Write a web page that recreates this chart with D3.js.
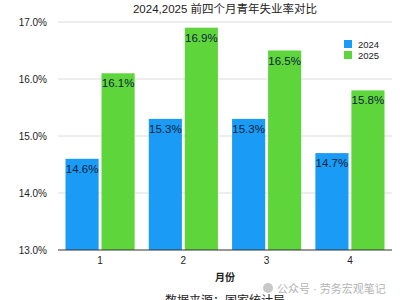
<!DOCTYPE html>
<html>
<head>
<meta charset="utf-8">
<script src="https://cdn.jsdelivr.net/npm/d3@7"></script>
<style>
  body { margin: 0; background: #fff; }
  svg { display: block; font-family: "Liberation Sans", "Noto Sans CJK SC", sans-serif; }
</style>
</head>
<body>
<svg width="400" height="300"></svg>
<script>
const months = ["1", "2", "3", "4"];
const seriesNames = ["2024", "2025"];
const rate2024 = [14.6, 15.3, 15.3, 14.7];
const rate2025 = [16.1, 16.9, 16.5, 15.8];
const yTicks = [13, 14, 15, 16, 17];
const colors = ["#1a9bf5", "#5fd53c"];

const svg = d3.select("svg");
const width = +svg.attr("width");
const height = +svg.attr("height");
const margin = { top: 22, right: 8, bottom: 50, left: 58 };

const x = d3.scaleBand()
  .domain(months)
  .range([margin.left, width - margin.right])
  .paddingInner(0.17)
  .paddingOuter(0.09);

const xInner = d3.scaleBand()
  .domain(seriesNames)
  .range([0, x.bandwidth()])
  .paddingInner(0.08);

const y = d3.scaleLinear()
  .domain([13, 17])
  .range([height - margin.bottom, margin.top]);

// title
svg.append("text")
  .attr("x", 225)
  .attr("y", 13)
  .attr("text-anchor", "middle")
  .attr("font-size", 11.5)
  .attr("fill", "#222")
  .text("2024,2025 前四个月青年失业率对比");

// grid + y labels
svg.append("g")
  .selectAll("line")
  .data(yTicks.slice(1))
  .enter().append("line")
  .attr("x1", margin.left)
  .attr("x2", width - margin.right)
  .attr("y1", d => y(d))
  .attr("y2", d => y(d))
  .attr("stroke", "#dcdcdc")
  .attr("stroke-width", 1);

svg.append("g")
  .selectAll("text")
  .data(yTicks)
  .enter().append("text")
  .attr("x", 47)
  .attr("y", d => y(d) + 4)
  .attr("text-anchor", "end")
  .attr("font-size", 10)
  .attr("fill", "#222")
  .text(d => d.toFixed(1) + "%");

// bars
const rows = months.map((m, i) => ({ month: m, values: [rate2024[i], rate2025[i]] }));

const groups = svg.append("g")
  .selectAll("g")
  .data(rows)
  .enter().append("g")
  .attr("transform", d => `translate(${x(d.month)},0)`);

groups.selectAll("rect")
  .data(d => d.values.map((v, j) => ({ key: seriesNames[j], value: v, j })))
  .enter().append("rect")
  .attr("x", d => xInner(d.key))
  .attr("y", d => y(d.value))
  .attr("width", xInner.bandwidth())
  .attr("height", d => y(13) - y(d.value))
  .attr("fill", d => colors[d.j]);

groups.selectAll("text")
  .data(d => d.values.map((v, j) => ({ key: seriesNames[j], value: v })))
  .enter().append("text")
  .attr("x", d => xInner(d.key) + xInner.bandwidth() / 2)
  .attr("y", d => y(d.value) + 14)
  .attr("text-anchor", "middle")
  .attr("font-size", 11.5)
  .attr("fill", "#0d2238")
  .text(d => d.value.toFixed(1) + "%");

// x axis
svg.append("line")
  .attr("x1", margin.left)
  .attr("x2", width - margin.right)
  .attr("y1", y(13))
  .attr("y2", y(13))
  .attr("stroke", "#333")
  .attr("stroke-width", 1.2);

svg.append("g")
  .selectAll("text")
  .data(months)
  .enter().append("text")
  .attr("x", d => x(d) + x.bandwidth() / 2)
  .attr("y", 264)
  .attr("text-anchor", "middle")
  .attr("font-size", 10)
  .attr("fill", "#222")
  .text(d => d);

svg.append("text")
  .attr("x", 225)
  .attr("y", 281)
  .attr("text-anchor", "middle")
  .attr("font-size", 10)
  .attr("font-weight", "bold")
  .attr("fill", "#222")
  .text("月份");

// legend
const legend = svg.append("g")
  .selectAll("g")
  .data(seriesNames)
  .enter().append("g")
  .attr("transform", (d, i) => `translate(344,${40 + i * 11})`);

legend.append("rect")
  .attr("width", 8)
  .attr("height", 8)
  .attr("fill", (d, i) => colors[i]);

legend.append("text")
  .attr("x", 14)
  .attr("y", 7.5)
  .attr("font-size", 9.5)
  .attr("fill", "#222")
  .text(d => d);

// source (cut off at the bottom, as in the original) and watermark
svg.append("text")
  .attr("x", 225)
  .attr("y", 305)
  .attr("text-anchor", "middle")
  .attr("font-size", 12)
  .attr("fill", "#222")
  .text("数据来源：国家统计局");

svg.append("circle")
  .attr("cx", 268)
  .attr("cy", 288)
  .attr("r", 5)
  .attr("fill", "#c8c8c8");

svg.append("text")
  .attr("x", 277)
  .attr("y", 293)
  .attr("font-size", 11)
  .attr("fill", "#b4b4b4")
  .text("公众号 · 劳务宏观笔记");
</script>
</body>
</html>
